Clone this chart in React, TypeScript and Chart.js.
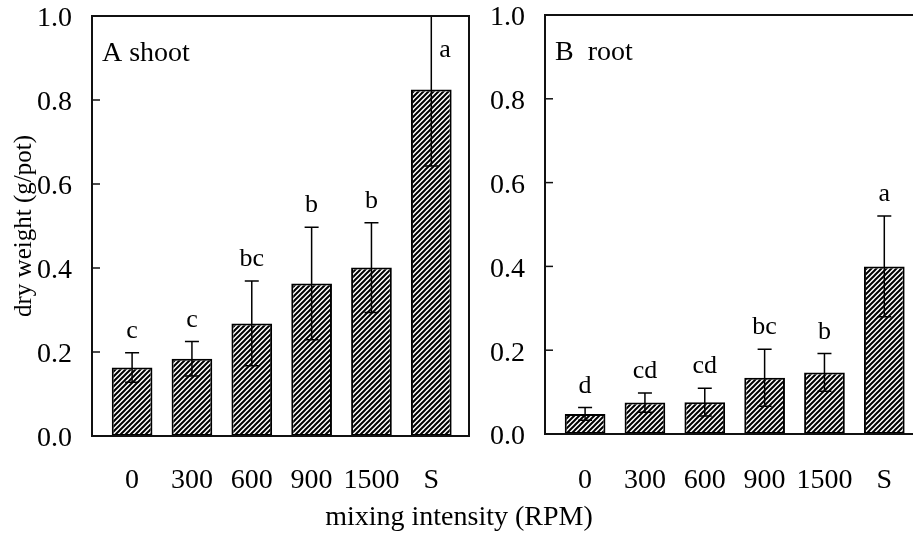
import React, { useEffect, useRef } from "react";
import { Chart, registerables } from "chart.js";
Chart.register(...registerables);

const categories = ["0", "300", "600", "900", "1500", "S"];
const shootMeans = [0.163, 0.184, 0.268, 0.363, 0.401, 0.825];
const shootErrors = [0.035, 0.041, 0.101, 0.134, 0.107, 0.182];
const shootLetters = ["c", "c", "bc", "b", "b", "a"];
const rootMeans = [0.048, 0.075, 0.076, 0.134, 0.147, 0.4];
const rootErrors = [0.015, 0.023, 0.033, 0.068, 0.045, 0.12];
const rootLetters = ["d", "cd", "cd", "bc", "b", "a"];
const yTicks = [0, 0.2, 0.4, 0.6, 0.8, 1.0];

const FONT = '"Liberation Serif", "Times New Roman", serif';

function makePattern(ctx: CanvasRenderingContext2D) {
  const p = 5;
  const tile = document.createElement("canvas");
  tile.width = p;
  tile.height = p;
  const t = tile.getContext("2d")!;
  t.fillStyle = "#fff";
  t.fillRect(0, 0, p, p);
  t.strokeStyle = "#000";
  t.lineWidth = 2;
  t.beginPath();
  t.moveTo(-1, p + 1);
  t.lineTo(p + 1, -1);
  t.moveTo(-1, 1);
  t.lineTo(1, -1);
  t.moveTo(p - 1, p + 1);
  t.lineTo(p + 1, p - 1);
  t.stroke();
  return ctx.createPattern(tile, "repeat")!;
}

type PanelOpts = {
  means: number[];
  errors: number[];
  letters: string[];
  label: string;
  yTitle: string | null;
  yAxisWidth: number;
  xAxisHeight: number;
  xTickPadding: number;
  padTop: number;
  padRight: number;
};

function buildChart(canvas: HTMLCanvasElement, o: PanelOpts) {
  const ctx = canvas.getContext("2d")!;
  const pattern = makePattern(ctx);

  const decor = {
    id: "decor",
    afterDatasetsDraw(chart: any) {
      const { ctx, chartArea: a, scales } = chart;
      const x = scales.x;
      const y = scales.y;
      // error bars (clipped to plot area)
      ctx.save();
      ctx.beginPath();
      ctx.rect(a.left, a.top, a.right - a.left, a.bottom - a.top);
      ctx.clip();
      ctx.strokeStyle = "#000";
      ctx.lineWidth = 1.5;
      o.means.forEach((m, i) => {
        const px = x.getPixelForValue(i);
        const yt = y.getPixelForValue(m + o.errors[i]);
        const yb = y.getPixelForValue(m - o.errors[i]);
        ctx.beginPath();
        ctx.moveTo(px, yt);
        ctx.lineTo(px, yb);
        ctx.moveTo(px - 7, yt);
        ctx.lineTo(px + 7, yt);
        ctx.moveTo(px - 7, yb);
        ctx.lineTo(px + 7, yb);
        ctx.stroke();
      });
      ctx.restore();

      ctx.save();
      // frame
      ctx.strokeStyle = "#111";
      ctx.lineWidth = 2;
      ctx.strokeRect(a.left, a.top, a.right - a.left, a.bottom - a.top);
      // inward ticks
      ctx.lineWidth = 1.5;
      yTicks.forEach((v) => {
        if (v <= 0 || v >= 1) return;
        const py = y.getPixelForValue(v);
        ctx.beginPath();
        ctx.moveTo(a.left, py);
        ctx.lineTo(a.left + 8, py);
        ctx.stroke();
      });
      // letters
      ctx.fillStyle = "#000";
      ctx.font = `26px ${FONT}`;
      ctx.textBaseline = "alphabetic";
      o.means.forEach((m, i) => {
        const px = x.getPixelForValue(i);
        const yt = y.getPixelForValue(m + o.errors[i]);
        if (yt < a.top + 30) {
          ctx.textAlign = "left";
          ctx.fillText(o.letters[i], px + 8, a.top + 41);
        } else {
          ctx.textAlign = "center";
          ctx.fillText(o.letters[i], px, yt - 15);
        }
      });
      // panel label
      ctx.font = `28px ${FONT}`;
      ctx.textAlign = "left";
      ctx.fillText(o.label, a.left + 10, a.top + 45);
      ctx.restore();
    },
  };

  return new Chart(ctx, {
    type: "bar",
    data: {
      datasets: [
        {
          data: o.means.map((m, i) => ({ x: i, y: m })),
          backgroundColor: pattern,
          borderColor: "#000",
          borderWidth: 2,
          borderSkipped: false,
          categoryPercentage: 1,
          barPercentage: 0.68,
        },
      ],
    },
    options: {
      responsive: false,
      animation: false,
      layout: { padding: { left: 0, top: o.padTop, right: o.padRight, bottom: 0 } },
      plugins: { legend: { display: false }, tooltip: { enabled: false } },
      scales: {
        x: {
          type: "linear",
          offset: false,
          min: -0.67,
          max: 5.63,
          grid: { display: false, drawTicks: false, offset: false },
          border: { display: false },
          afterBuildTicks: (s: any) => {
            s.ticks = categories.map((_, i) => ({ value: i }));
          },
          afterFit: (s: any) => {
            s.height = o.xAxisHeight;
            s.paddingLeft = 0;
            s.paddingRight = 0;
          },
          ticks: {
            autoSkip: false,
            maxRotation: 0,
            padding: o.xTickPadding,
            color: "#000",
            font: { family: FONT, size: 28, lineHeight: 1 },
            callback: (v: any) => categories[Math.round(Number(v))] ?? "",
          },
        },
        y: {
          type: "linear",
          min: 0,
          max: 1,
          grid: { display: false, drawTicks: false },
          border: { display: false },
          afterBuildTicks: (s: any) => {
            s.ticks = yTicks.map((v) => ({ value: v }));
          },
          afterFit: (s: any) => {
            s.width = o.yAxisWidth;
            s.paddingTop = 0;
            s.paddingBottom = 0;
          },
          ticks: {
            padding: 20,
            labelOffset: 3,
            color: "#000",
            font: { family: FONT, size: 28, lineHeight: 1 },
            callback: (v: any) => Number(v).toFixed(1),
          },
          title: {
            display: !!o.yTitle,
            text: o.yTitle || "",
            color: "#000",
            font: { family: FONT, size: 25 },
            padding: { top: 9, bottom: 0 },
          },
        },
      },
    },
    plugins: [decor],
  } as any);
}

export default function App() {
  const leftRef = useRef<HTMLCanvasElement>(null);
  const rightRef = useRef<HTMLCanvasElement>(null);

  useEffect(() => {
    const c1 = buildChart(leftRef.current!, {
      means: shootMeans,
      errors: shootErrors,
      letters: shootLetters,
      label: "A shoot",
      yTitle: "dry weight (g/pot)",
      yAxisWidth: 92,
      xAxisHeight: 101,
      xTickPadding: 30.5,
      padTop: 16,
      padRight: 11,
    });
    const c2 = buildChart(rightRef.current!, {
      means: rootMeans,
      errors: rootErrors,
      letters: rootLetters,
      label: "B  root",
      yTitle: null,
      yAxisWidth: 65,
      xAxisHeight: 103,
      xTickPadding: 32.5,
      padTop: 15,
      padRight: 18,
    });
    return () => {
      c1.destroy();
      c2.destroy();
    };
  }, []);

  return (
    <div
      style={{
        position: "absolute",
        left: 0,
        top: 0,
        width: 913,
        height: 537,
        overflow: "hidden",
        background: "#fff",
      }}
    >
      <canvas
        ref={leftRef}
        width={480}
        height={537}
        style={{ position: "absolute", left: 0, top: 0, width: 480, height: 537 }}
      />
      <canvas
        ref={rightRef}
        width={460}
        height={537}
        style={{ position: "absolute", left: 480, top: 0, width: 460, height: 537 }}
      />
      <div
        style={{
          position: "absolute",
          left: 0,
          top: 502,
          width: 918,
          textAlign: "center",
          fontFamily: FONT,
          fontSize: 28,
          lineHeight: "28px",
          color: "#000",
          whiteSpace: "nowrap",
        }}
      >
        mixing intensity (RPM)
      </div>
    </div>
  );
}
